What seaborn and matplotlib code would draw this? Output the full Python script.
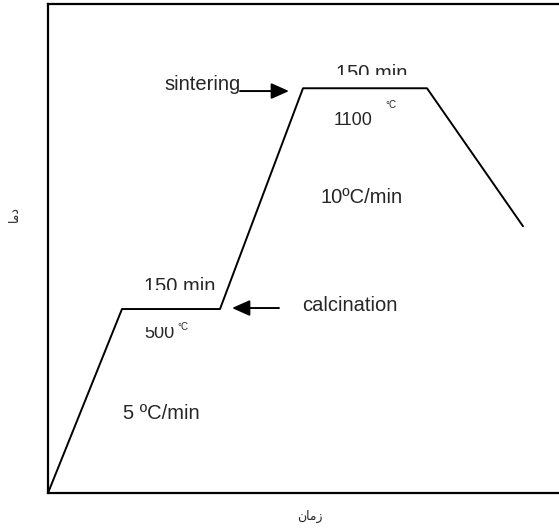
import matplotlib
matplotlib.use("Agg")
import matplotlib.pyplot as plt
import seaborn as sns
import pandas as pd
from matplotlib.transforms import Bbox, TransformedBbox

# ---- data (time in arbitrary units, temperature in °C) ----
time = [0, 74, 172, 255, 379, 475]
temperature = [0, 500, 500, 1100, 1100, 725]
x_label = "\uFEE5\uFE8E\uFEE3\uFEAF"   # زمان (shaped, visual order)
y_label = "\uFE8E\uFEE3\uFEA9"         # دما  (shaped, visual order)

sns.set_theme(style="white")
plt.rcParams['font.family'] = ['Liberation Sans', 'DejaVu Sans']

fig = plt.figure(figsize=(5.59, 5.29), dpi=100)
ax = fig.add_axes([48/559, 36/529, 511/559, 489/529])

df = pd.DataFrame({"time": time, "temp": temperature})
sns.lineplot(data=df, x="time", y="temp", color="black", lw=1.4, ax=ax, zorder=5)

ax.set_xlim(0, 511)
ax.set_ylim(0, 1329)
ax.set_xticks([])
ax.set_yticks([])
for s in ["left", "bottom", "top"]:
    ax.spines[s].set_color("black")
    ax.spines[s].set_linewidth(1.6)
ax.spines["right"].set_visible(False)

ax.set_xlabel(x_label, family="DejaVu Sans", fontsize=9)
ax.set_ylabel(y_label, family="DejaVu Sans", fontsize=9)
ax.xaxis.set_label_coords((310 - 48) / 511, (493 - 510) / 489)
ax.yaxis.set_label_coords((21 - 48) / 511, (493 - 214) / 489)

def px(x, y):
    return (x - 48, (493 - y) / 0.368)

def clip(t, y_lo_px=None, y_hi_px=None):
    lo = 0 if y_lo_px is None else (493 - y_lo_px) / 0.368
    hi = 1400 if y_hi_px is None else (493 - y_hi_px) / 0.368
    t.set_clip_box(TransformedBbox(Bbox([[0, lo], [511, hi]]), ax.transData))
    t.set_clip_on(True)

fs = 14.5
fn = 13
fsup = 7
arrow = dict(arrowstyle="-|>,head_length=0.9,head_width=0.4",
             color="black", lw=1.4, shrinkA=0, shrinkB=0)
# sintering
ax.text(*px(203, 90), "sintering", fontsize=fs, ha="center", va="baseline")
ax.annotate("", xy=px(289, 91), xytext=px(240, 91), arrowprops=arrow)
t = ax.text(*px(372, 79), "150 min", fontsize=fs, ha="center", va="baseline")
clip(t, y_lo_px=75)
ax.text(*px(353, 125), "1100", fontsize=fn, ha="center", va="baseline")
ax.text(*px(391, 105), "°C", fontsize=fsup, ha="center", va="center")
ax.text(*px(362, 203), "10ºC/min", fontsize=fs, ha="center", va="baseline")

# calcination
t2 = ax.text(*px(180, 292), "150 min", fontsize=fs, ha="center", va="baseline")
clip(t2, y_lo_px=290)
ax.text(*px(350, 311), "calcination", fontsize=fs, ha="center", va="baseline")
ax.annotate("", xy=px(232, 308), xytext=px(279, 308), arrowprops=arrow)
t3 = ax.text(*px(159, 338), "500", fontsize=fn, ha="center", va="baseline")
clip(t3, y_hi_px=327)
ax.text(*px(183, 327), "°C", fontsize=fsup, ha="center", va="center")
ax.text(*px(161, 419), "5 ºC/min", fontsize=fs, ha="center", va="baseline")

fig.savefig("out.png", dpi=100)
